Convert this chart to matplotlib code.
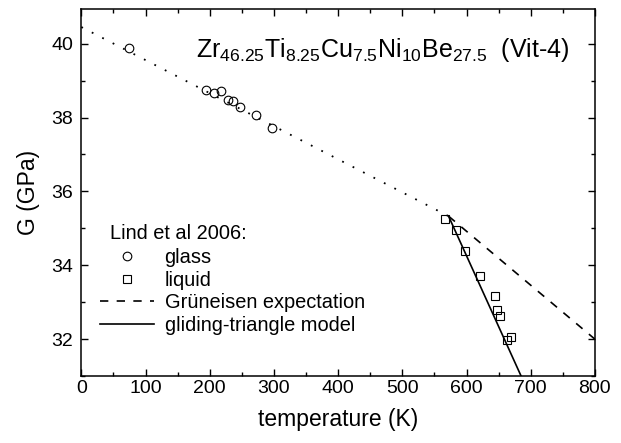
import numpy as np
import matplotlib
matplotlib.use("Agg")
import matplotlib.pyplot as plt
from matplotlib.ticker import MultipleLocator

plt.rcParams["font.family"] = ["Liberation Sans", "DejaVu Sans"]
plt.rcParams["mathtext.default"] = "regular"

# Lind et al 2006 data
glass_T = [75, 194, 207, 218, 228, 237, 247, 272, 297]
glass_G = [39.88, 38.75, 38.67, 38.71, 38.48, 38.44, 38.29, 38.06, 37.71]

liquid_T = [566, 584, 597, 621, 645, 647, 652, 663, 670]
liquid_G = [35.25, 34.95, 34.38, 33.70, 33.17, 32.80, 32.64, 31.99, 32.05]

# model lines
glass_fit_T = [0, 572]
glass_fit_G = [40.45, 35.33]
grun_T = [572, 800]
grun_G = [35.33, 32.0]
glide_T = [572, 690]
glide_G = [35.33, 30.81]

fig = plt.figure(figsize=(6.21, 4.43), dpi=100)
ax = fig.add_axes([0.131, 0.151, 0.827, 0.828])

ax.plot(glass_fit_T, glass_fit_G, color="black", lw=1.3,
        linestyle=(0, (1, 5.5)))
ax.plot(glass_T, glass_G, linestyle="none", marker="o", ms=6.2,
        mfc="none", mec="black", mew=0.8, label="glass")
ax.plot(liquid_T, liquid_G, linestyle="none", marker="s", ms=5.7,
        mfc="none", mec="black", mew=0.8, label="liquid")
ax.plot(grun_T, grun_G, color="black", lw=1.2, linestyle=(0, (5, 5)),
        label="Grüneisen expectation")
ax.plot(glide_T, glide_G, color="black", lw=1.2,
        label="gliding-triangle model")

ax.set_xlim(0, 800)
ax.set_ylim(31, 40.93)
ax.xaxis.set_major_locator(MultipleLocator(100))
ax.xaxis.set_minor_locator(MultipleLocator(50))
ax.yaxis.set_major_locator(MultipleLocator(2))
ax.yaxis.set_minor_locator(MultipleLocator(1))
ax.tick_params(which="both", direction="in", top=True, right=True,
               width=1.0, labelsize=14)
ax.tick_params(axis="x", pad=3)
ax.tick_params(axis="y", pad=6)
ax.tick_params(which="major", length=5)
ax.tick_params(which="minor", length=3)
for sp in ax.spines.values():
    sp.set_linewidth(1.1)

ax.set_xlabel("temperature (K)", fontsize=16.5, labelpad=8)
ax.set_ylabel("G (GPa)", fontsize=16.5, labelpad=8)

ax.text(0.223, 0.888,
        "Zr$_{46.25}$Ti$_{8.25}$Cu$_{7.5}$Ni$_{10}$Be$_{27.5}$  (Vit-4)",
        transform=ax.transAxes, fontsize=18, va="center", ha="left")

ax.text(0.055, 0.388, "Lind et al 2006:", transform=ax.transAxes,
        fontsize=14.4, va="center", ha="left")
leg = ax.legend(loc="upper left", bbox_to_anchor=(0.02, 0.37),
                frameon=False, fontsize=14.4, handlelength=2.7,
                handletextpad=0.55, labelspacing=0.17, borderaxespad=0.0)

fig.savefig("out.png", dpi=100)
